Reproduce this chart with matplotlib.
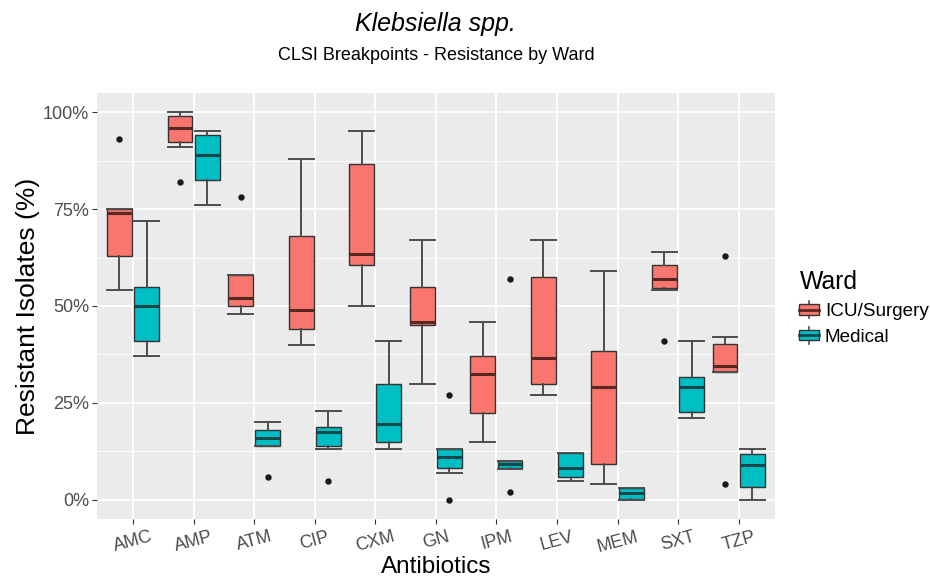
import matplotlib
matplotlib.use("Agg")
import matplotlib.pyplot as plt
from matplotlib.legend_handler import HandlerBase
from matplotlib.patches import Rectangle
from matplotlib.lines import Line2D
from matplotlib.ticker import FixedLocator, FuncFormatter

plt.rcParams["font.family"] = ["Liberation Sans", "DejaVu Sans"]

antibiotics = ["AMC", "AMP", "ATM", "CIP", "CXM", "GN", "IPM", "LEV", "MEM", "SXT", "TZP"]
wards = ["ICU/Surgery", "Medical"]

# ICU/Surgery summaries (% resistant isolates)
icu_whislo = [54, 91, 48, 40, 50, 30, 15, 27, 4, 54, 33]
icu_q1 = [63, 92.3, 50, 44, 60.7, 45, 22.3, 30, 9.3, 54.7, 33]
icu_med = [74, 96, 52, 49, 63.5, 46, 32.5, 36.5, 29, 57, 34.5]
icu_q3 = [75, 99, 58, 68, 86.5, 55, 37, 57.5, 38.3, 60.7, 40.3]
icu_whishi = [75, 100, 58, 88, 95, 67, 46, 67, 59, 64, 42]
icu_fliers = [[93], [82], [78], [], [], [], [], [], [], [41], [63, 4]]

# Medical summaries (% resistant isolates)
med_whislo = [37, 76, 14, 13, 13, 7, 8, 5, 0, 21, 0]
med_q1 = [41, 82.4, 14, 14, 15, 8.2, 8.2, 6, 0.2, 22.6, 3.3]
med_med = [50, 89, 16, 17.5, 19.7, 11, 9.3, 8.2, 1.7, 29, 9]
med_q3 = [55, 94, 18, 18.7, 30, 13, 10, 12, 3, 31.8, 11.8]
med_whishi = [72, 95, 20, 23, 41, 13, 10, 12, 3, 41, 13]
med_fliers = [[], [], [6], [5], [], [27, 0], [57, 2], [], [], [], []]

fills = ["#F8766D", "#00BFC4"]
median_cols = ["#5a2823", "#15474a"]

W, H = 930, 581
fig = plt.figure(figsize=(W / 100, H / 100), dpi=100)
ax = fig.add_axes([96.7 / W, 1 - 519.3 / H, (775 - 96.7) / W, (519.3 - 92.7) / H])
ax.set_facecolor("#EBEBEB")
for s in ax.spines.values():
    s.set_visible(False)


def make_stats(lo, q1, med, q3, hi, fl):
    return [dict(whislo=a, q1=b, med=c, q3=d, whishi=e, fliers=f)
            for a, b, c, d, e, f in zip(lo, q1, med, q3, hi, fl)]


series = [
    make_stats(icu_whislo, icu_q1, icu_med, icu_q3, icu_whishi, icu_fliers),
    make_stats(med_whislo, med_q1, med_med, med_q3, med_whishi, med_fliers),
]

box_w = 0.41
offsets = [-0.225, 0.225]
for k, stats in enumerate(series):
    pos = [i + 1 + offsets[k] for i in range(len(antibiotics))]
    ax.bxp(
        stats, positions=pos, widths=box_w, capwidths=box_w,
        patch_artist=True, manage_ticks=False, zorder=3,
        boxprops=dict(facecolor=fills[k], edgecolor="#333333", linewidth=1.0),
        medianprops=dict(color=median_cols[k], linewidth=2.2, solid_capstyle="butt"),
        whiskerprops=dict(color="#4d4d4d", linewidth=1.4),
        capprops=dict(color="#4d4d4d", linewidth=1.4),
        flierprops=dict(marker="o", markersize=3.6, markerfacecolor="#1a1a1a",
                        markeredgecolor="#1a1a1a", linestyle="none"),
    )

ax.set_xlim(0.4, len(antibiotics) + 0.6)
ax.set_ylim(-5, 105)
ax.xaxis.set_major_locator(FixedLocator(range(1, len(antibiotics) + 1)))
ax.set_xticklabels(antibiotics, rotation=15, ha="center", fontsize=13, color="#4d4d4d")
ax.yaxis.set_major_locator(FixedLocator([0, 25, 50, 75, 100]))
ax.yaxis.set_minor_locator(FixedLocator([12.5, 37.5, 62.5, 87.5]))
ax.yaxis.set_major_formatter(FuncFormatter(lambda v, p: f"{v:.0f}%"))
ax.tick_params(axis="y", labelsize=13, labelcolor="#4d4d4d", color="#333333", length=3.5, width=0.8, pad=2)
ax.tick_params(axis="x", color="#333333", length=3.5, width=0.8, pad=3)
ax.tick_params(axis="y", which="minor", length=0)
ax.grid(True, which="major", color="white", linewidth=1.3, zorder=0)
ax.grid(True, which="minor", axis="y", color="white", linewidth=0.6, zorder=0)
ax.set_axisbelow(True)

ax.set_xlabel("Antibiotics", fontsize=17.5, labelpad=0.5, color="black")
ax.set_ylabel("Resistant Isolates (%)", fontsize=19, labelpad=2, color="black")

cx = (96.7 + 775) / 2 / W
fig.text(cx, 1 - 24 / H, "Klebsiella spp.", fontsize=18, style="italic", ha="center", va="center")
fig.text(cx, 1 - 55 / H, "CLSI Breakpoints - Resistance by Ward", fontsize=13, ha="center", va="center")


class BoxKeyHandler(HandlerBase):
    def create_artists(self, legend, orig_handle, xdescent, ydescent, width, height, fontsize, trans):
        x0, y0 = -xdescent, -ydescent
        fc = orig_handle.get_facecolor()
        mc = orig_handle.get_edgecolor()
        xm = x0 + width / 2
        rect = Rectangle((x0, y0 + 0.2 * height), width, 0.6 * height,
                         facecolor=fc, edgecolor="#333333", linewidth=1.0, transform=trans)
        w1 = Line2D([xm, xm], [y0, y0 + 0.2 * height], color="#4d4d4d", lw=1.2, transform=trans)
        w2 = Line2D([xm, xm], [y0 + 0.8 * height, y0 + height], color="#4d4d4d", lw=1.2, transform=trans)
        md = Line2D([x0, x0 + width], [y0 + 0.5 * height] * 2, color=mc, lw=2.0, transform=trans)
        return [w1, w2, rect, md]


handles = [Rectangle((0, 0), 1, 1, facecolor=fills[k], edgecolor=median_cols[k]) for k in range(2)]
leg = fig.legend(
    handles, wards, handler_map={Rectangle: BoxKeyHandler()},
    loc="center left", bbox_to_anchor=(790 / W, 1 - 308 / H), frameon=False,
    fontsize=13.6, title="Ward", title_fontsize=17.8, alignment="left",
    handlelength=1.05, handleheight=1.0, handletextpad=0.3, labelspacing=0.35, borderpad=0,
)

fig.savefig("out.png", dpi=100)
